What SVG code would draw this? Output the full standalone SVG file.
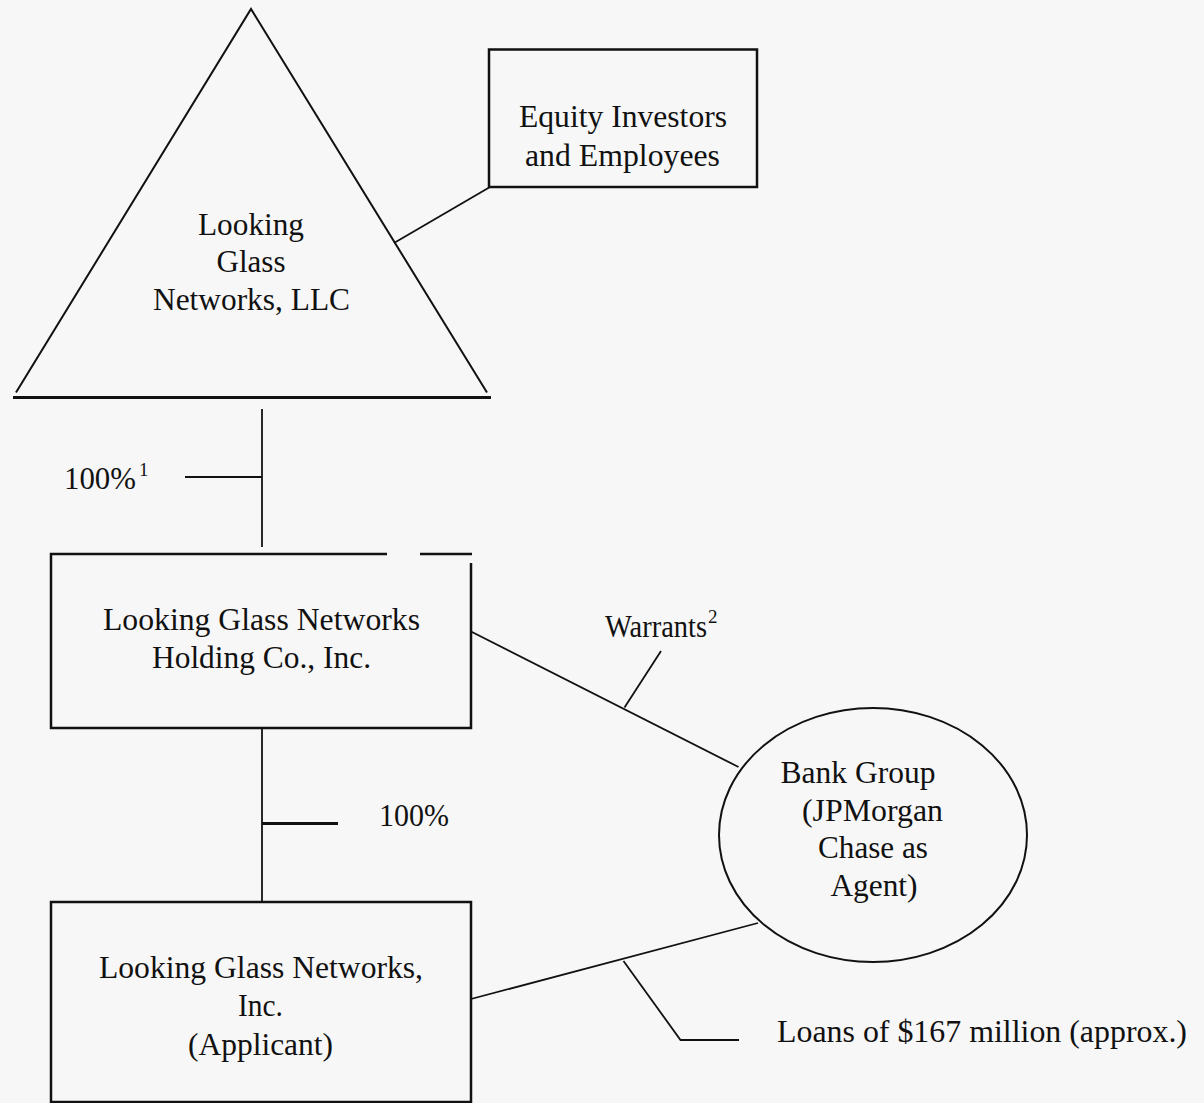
<svg xmlns="http://www.w3.org/2000/svg" width="1204" height="1103" viewBox="0 0 1204 1103">
<style>
  .t{font-family:"Liberation Serif","Times New Roman",serif;font-size:31px;fill:#111}
  .m{text-anchor:middle}
  .sup{font-size:19px}
  .shape{fill:none;stroke:#111;stroke-width:2}
  .box{fill:none;stroke:#111;stroke-width:2.5}
  .ln{fill:none;stroke:#111;stroke-width:1.8}
</style>
<rect x="0" y="0" width="1204" height="1103" fill="#f7f7f7"/>
<g id="connectors">
  <line class="ln" x1="394" y1="243" x2="490" y2="187"/>
  <line class="ln" x1="262" y1="409" x2="262" y2="547"/>
  <line class="ln" x1="185" y1="477" x2="262" y2="477"/>
  <line class="ln" x1="262" y1="728" x2="262" y2="902"/>
  <line class="ln" x1="262" y1="823.5" x2="338" y2="823.5" style="stroke-width:3"/>
  <line class="ln" x1="471" y1="631.5" x2="738.5" y2="767"/>
  <line class="ln" x1="624.5" y1="707.5" x2="661" y2="651"/>
  <line class="ln" x1="471" y1="999" x2="758" y2="923"/>
  <polyline class="ln" points="623.5,961 680.5,1040 739,1040"/>
</g>
<g id="llc">
  <polyline class="shape" points="16,392.5 251,9 487,392.5"/>
  <line x1="13" y1="397.5" x2="491" y2="397.5" stroke="#111" stroke-width="3"/>
  <text class="t m" x="251" y="235" textLength="106" lengthAdjust="spacingAndGlyphs">Looking</text>
  <text class="t m" x="251" y="272" textLength="69" lengthAdjust="spacingAndGlyphs">Glass</text>
  <text class="t m" x="251.5" y="310" textLength="197" lengthAdjust="spacingAndGlyphs">Networks, LLC</text>
</g>
<g id="equity">
  <rect class="box" x="489" y="49.5" width="268" height="137.5"/>
  <text class="t m" x="623" y="127" textLength="208" lengthAdjust="spacingAndGlyphs">Equity Investors</text>
  <text class="t m" x="622.5" y="166" textLength="195" lengthAdjust="spacingAndGlyphs">and Employees</text>
</g>
<g id="holding">
  <path class="box" d="M387,554 H51 V728 H471 V563 M420,554 H472"/>
  <text class="t m" x="261.5" y="630" textLength="317" lengthAdjust="spacingAndGlyphs">Looking Glass Networks</text>
  <text class="t m" x="261.5" y="668" textLength="219" lengthAdjust="spacingAndGlyphs">Holding Co., Inc.</text>
</g>
<g id="applicant">
  <path class="box" d="M51,1104 V902 H471 V1104 M51,1102 H471"/>
  <text class="t m" x="261" y="978" textLength="324" lengthAdjust="spacingAndGlyphs">Looking Glass Networks,</text>
  <text class="t m" x="260.5" y="1016" textLength="45" lengthAdjust="spacingAndGlyphs">Inc.</text>
  <text class="t m" x="260.5" y="1055" textLength="145" lengthAdjust="spacingAndGlyphs">(Applicant)</text>
</g>
<g id="bank">
  <ellipse class="shape" cx="873" cy="835" rx="154" ry="127"/>
  <text class="t m" x="858" y="783" textLength="155" lengthAdjust="spacingAndGlyphs">Bank Group</text>
  <text class="t m" x="872.5" y="821" textLength="141" lengthAdjust="spacingAndGlyphs">(JPMorgan</text>
  <text class="t m" x="873" y="858" textLength="110" lengthAdjust="spacingAndGlyphs">Chase as</text>
  <text class="t m" x="874" y="896" textLength="87" lengthAdjust="spacingAndGlyphs">Agent)</text>
</g>
<g id="labels">
  <text class="t" x="64" y="489"><tspan textLength="72" lengthAdjust="spacingAndGlyphs">100%</tspan><tspan class="sup" dx="3" dy="-13">1</tspan></text>
  <text class="t" x="379" y="826" textLength="70" lengthAdjust="spacingAndGlyphs">100%</text>
  <text class="t" x="605" y="637"><tspan textLength="102" lengthAdjust="spacingAndGlyphs">Warrants</tspan><tspan class="sup" dx="1" dy="-14">2</tspan></text>
  <text class="t" x="777" y="1042" textLength="410" lengthAdjust="spacingAndGlyphs">Loans of $167 million (approx.)</text>
</g>
</svg>
